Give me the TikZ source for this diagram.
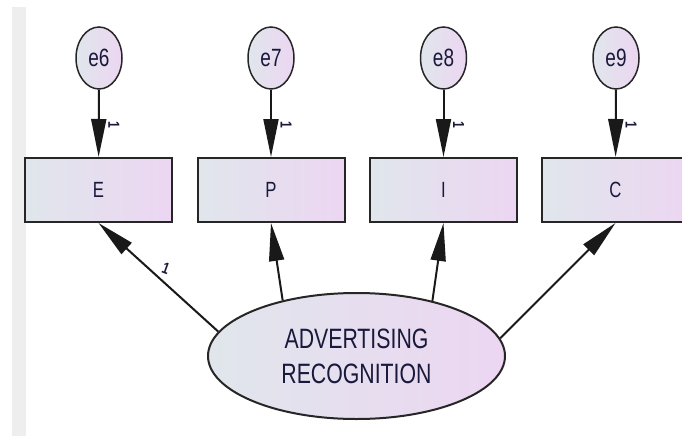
\documentclass[tikz,border=0pt]{standalone}
\usepackage{fontspec}
\setmainfont[FakeStretch=0.76]{Liberation Sans}
\usetikzlibrary{arrows.meta,shapes.geometric}
\definecolor{fillL}{RGB}{224,230,236}
\definecolor{fillR}{RGB}{236,214,242}
\definecolor{txt}{RGB}{25,25,60}
\definecolor{stripe}{RGB}{238,238,238}
\begin{document}
\begin{tikzpicture}[x=1pt,y=-1pt,
  obs/.style={draw=black!85, line width=2pt, rectangle, minimum width=147pt, minimum height=64pt, inner sep=0pt, left color=fillL, right color=fillR, font=\fontsize{22}{24}\selectfont, text=txt},
  err/.style={draw=black!85, line width=1.5pt, ellipse, minimum width=46pt, minimum height=62pt, inner sep=0pt, left color=fillL, right color=fillR, font=\fontsize{25}{26}\selectfont, text=txt},
  lat/.style={draw=black!85, line width=2pt, ellipse, minimum width=297pt, minimum height=126pt, inner sep=0pt, left color=fillL, right color=fillR, align=center, font=\fontsize{28}{35}\selectfont, text=txt},
  arr/.style={draw=black!90, line width=2pt, -{Triangle[length=38pt,width=15pt]}},
  one/.style={font=\fontsize{16}{16}\selectfont\bfseries, text=txt, inner sep=0pt}
]
\useasboundingbox (0,0) rectangle (682,436);
\clip (0,0) rectangle (682,436);
\fill[stripe] (12,7) rectangle (26,436);

\node[obs] (E) at (98.5,190) {E};
\node[obs] (P) at (271,190) {P};
\node[obs] (I) at (443.5,190) {I};
\node[obs] (C) at (615.5,190) {C};

\node[err] (e6) at (99,58) {e6};
\node[err] (e7) at (271,58) {e7};
\node[err] (e8) at (443.5,58) {e8};
\node[err] (e9) at (616,58) {e9};

\node[lat] (AR) at (356.5,356) {ADVERTISING\\RECOGNITION};

\draw[arr] (e6) -- (E);
\draw[arr] (e7) -- (P);
\draw[arr] (e8) -- (I);
\draw[arr] (e9) -- (C);

\node[one, rotate=-90] (l6) at (114,125) {1};
\node[one, rotate=-90] (l7) at (286,125) {1};
\node[one, rotate=-90] (l8) at (458.5,125) {1};
\node[one, rotate=-90] (l9) at (631,125) {1};

\draw[arr] (AR.170.6) -- (E.south);
\draw[arr] (AR.143) -- (P.south);
\draw[arr] (AR.36.7) -- (I.south);
\draw[arr] (AR.7) -- (C.south);

\node[one, rotate=-20] (lE) at (166,268) {1};
\end{tikzpicture}
\end{document}
